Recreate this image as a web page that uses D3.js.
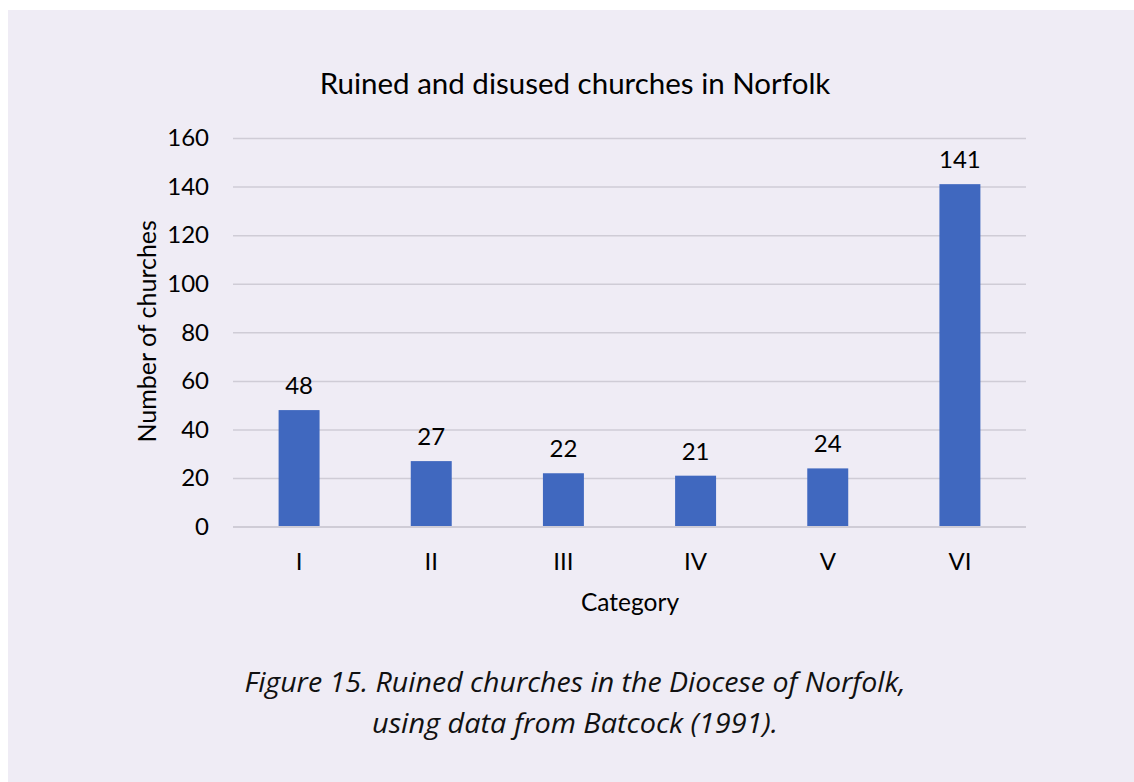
<!DOCTYPE html>
<html>
<head>
<meta charset="utf-8">
<script src="https://cdn.jsdelivr.net/npm/d3@7/dist/d3.min.js"></script>
<style>
  html, body { margin: 0; padding: 0; background: #ffffff; }
  svg { display: block; }
</style>
</head>
<body>
<svg id="chart" width="1134" height="782"></svg>
<script>
// Norfolk ruined / disused churches by category (Batcock 1991)
const categories = ["I", "II", "III", "IV", "V", "VI"];
const churchCounts = [48, 27, 22, 21, 24, 141];
const yTicks = [0, 20, 40, 60, 80, 100, 120, 140, 160];

const chartTitle = "Ruined and disused churches in Norfolk";
const yAxisTitle = "Number of churches";
const xAxisTitle = "Category";
const captionLines = [
  "Figure 15. Ruined churches in the Diocese of Norfolk,",
  "using data from Batcock (1991)."
];

const W = 1134, H = 782;
const plot = { left: 233, right: 1026, top: 138, bottom: 526.7 };
const font = "Lato, 'Open Sans', sans-serif";
const labelSize = 24;

const svg = d3.select("#chart");

// lavender panel behind everything
svg.append("rect")
  .attr("x", 8).attr("y", 10)
  .attr("width", W - 8).attr("height", H - 10)
  .attr("fill", "#efecf5");

const x = d3.scaleBand()
  .domain(categories)
  .range([plot.left, plot.right])
  .paddingInner(0.69)
  .paddingOuter(0.345);

const y = d3.scaleLinear()
  .domain([0, 160])
  .range([plot.bottom, plot.top]);

// horizontal gridlines + y tick labels
const yAxis = d3.axisLeft(y)
  .tickValues(yTicks)
  .tickSize(-(plot.right - plot.left))
  .tickPadding(24)
  .tickFormat(d3.format("d"));

const gy = svg.append("g")
  .attr("transform", `translate(${plot.left},0)`)
  .call(yAxis);
gy.select(".domain").remove();
gy.selectAll(".tick line")
  .attr("stroke", "#cfccd6")
  .attr("stroke-width", 1.5);
gy.selectAll(".tick text")
  .attr("font-family", font)
  .attr("font-size", labelSize)
  .attr("fill", "#000");

// bars
svg.append("g").selectAll("rect")
  .data(categories)
  .join("rect")
  .attr("x", d => x(d))
  .attr("width", x.bandwidth())
  .attr("y", (d, i) => y(churchCounts[i]))
  .attr("height", (d, i) => y(0) - y(churchCounts[i]))
  .attr("fill", "#4068bf");

// value labels above bars
svg.append("g").selectAll("text")
  .data(categories)
  .join("text")
  .attr("x", d => x(d) + x.bandwidth() / 2)
  .attr("y", (d, i) => y(churchCounts[i]) - 16)
  .attr("text-anchor", "middle")
  .attr("font-family", font)
  .attr("font-size", labelSize)
  .attr("fill", "#000")
  .text((d, i) => churchCounts[i]);

// x axis: baseline + category labels
const xAxis = d3.axisBottom(x).tickSize(0).tickPadding(26);
const gx = svg.append("g")
  .attr("transform", `translate(0,${plot.bottom})`)
  .call(xAxis);
gx.select(".domain")
  .attr("stroke", "#cfccd6")
  .attr("stroke-width", 1.5)
  .attr("d", `M${plot.left},0H${plot.right}`);
gx.selectAll(".tick text")
  .attr("font-family", font)
  .attr("font-size", labelSize)
  .attr("fill", "#000");

// titles
svg.append("text")
  .attr("x", 575).attr("y", 94)
  .attr("text-anchor", "middle")
  .attr("font-family", font)
  .attr("font-size", 29.5)
  .attr("fill", "#000")
  .text(chartTitle);

svg.append("text")
  .attr("x", 630).attr("y", 611)
  .attr("text-anchor", "middle")
  .attr("font-family", font)
  .attr("font-size", 24.5)
  .attr("fill", "#000")
  .text(xAxisTitle);

svg.append("text")
  .attr("transform", `translate(156,${(plot.top + plot.bottom) / 2 - 1}) rotate(-90)`)
  .attr("text-anchor", "middle")
  .attr("font-family", font)
  .attr("font-size", 25)
  .attr("fill", "#000")
  .text(yAxisTitle);

// figure caption
const captionWidths = [661, 406];
svg.append("g").selectAll("text")
  .data(captionLines)
  .join("text")
  .attr("x", 575)
  .attr("y", (d, i) => 692 + i * 41)
  .attr("text-anchor", "middle")
  .attr("font-family", "'Open Sans', sans-serif")
  .attr("font-style", "italic")
  .attr("font-size", 28)
  .attr("textLength", (d, i) => captionWidths[i])
  .attr("lengthAdjust", "spacingAndGlyphs")
  .attr("fill", "#111")
  .text(d => d);
</script>
</body>
</html>
